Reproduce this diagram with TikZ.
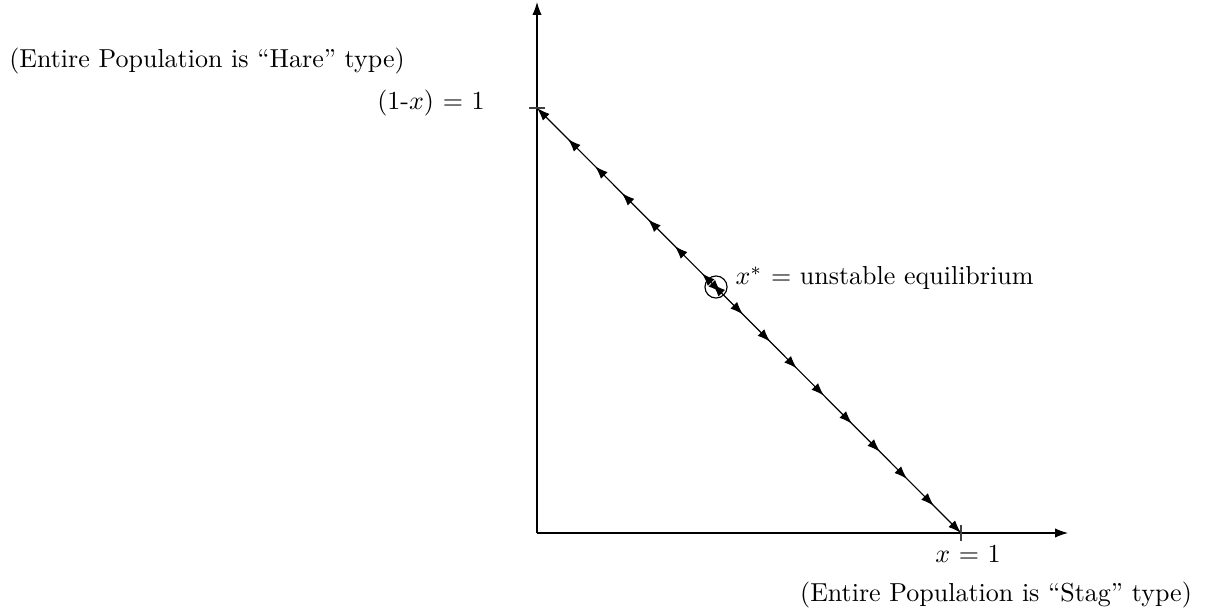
\documentclass[tikz,border=0pt]{standalone}
\usetikzlibrary{arrows.meta,decorations.markings}
\begin{document}
\begin{tikzpicture}[x=0.3846pt,y=-0.3846pt,line width=0.45pt,
  tip/.tip={Latex[length=5pt,width=3.6pt]},
  axis/.style={-{tip}},
  tickline/.style={line width=0.6pt,black!75},
  lbl/.style={inner sep=0pt},
  flow/.style={{tip}-{tip},postaction={decorate},
    decoration={markings,
      mark=at position 0.073 with {\arrowreversed{tip}},
      mark=at position 0.137 with {\arrowreversed{tip}},
      mark=at position 0.200 with {\arrowreversed{tip}},
      mark=at position 0.262 with {\arrowreversed{tip}},
      mark=at position 0.325 with {\arrowreversed{tip}},
      mark=at position 0.389 with {\arrowreversed{tip}},
      mark=at position 0.414 with {\arrowreversed{tip}},
      mark=at position 0.434 with {\arrow{tip}},
      mark=at position 0.486 with {\arrow{tip}},
      mark=at position 0.550 with {\arrow{tip}},
      mark=at position 0.613 with {\arrow{tip}},
      mark=at position 0.677 with {\arrow{tip}},
      mark=at position 0.743 with {\arrow{tip}},
      mark=at position 0.809 with {\arrow{tip}},
      mark=at position 0.873 with {\arrow{tip}},
      mark=at position 0.936 with {\arrow{tip}}}}]
\useasboundingbox (0,0) rectangle (1205,611);
\coordinate (O) at (537,533);
\coordinate (Ytop) at (537,2);
\coordinate (Xend) at (1068,533);
\coordinate (A) at (537,108);
\coordinate (B) at (961,533);
\coordinate (Al) at (529,108);
\coordinate (Ar) at (545,108);
\coordinate (Bu) at (961,525);
\coordinate (Bd) at (961,541);
\draw[axis] (O) -- (Ytop);
\draw[axis] (O) -- (Xend);
\draw[tickline] (Al) -- (Ar);
\draw[tickline] (Bu) -- (Bd);
\draw[flow] (A) -- (B);
\node[draw,circle,inner sep=0pt,minimum size=8.5pt] (eq) at (716,287) {};
\node[lbl] (hare) at (207,61) {(Entire Population is ``Hare'' type)};
\node[lbl] (one) at (431,103) {(1-$x$) $=$ 1};
\node[lbl,anchor=base west] (xstar) at (735,285) {$x^*$ $=$ unstable equilibrium};
\node[lbl,anchor=base] (x1) at (968,562) {$x$ $=$ 1};
\node[lbl] (stag) at (996,595) {(Entire Population is ``Stag'' type)};
\end{tikzpicture}
\end{document}
